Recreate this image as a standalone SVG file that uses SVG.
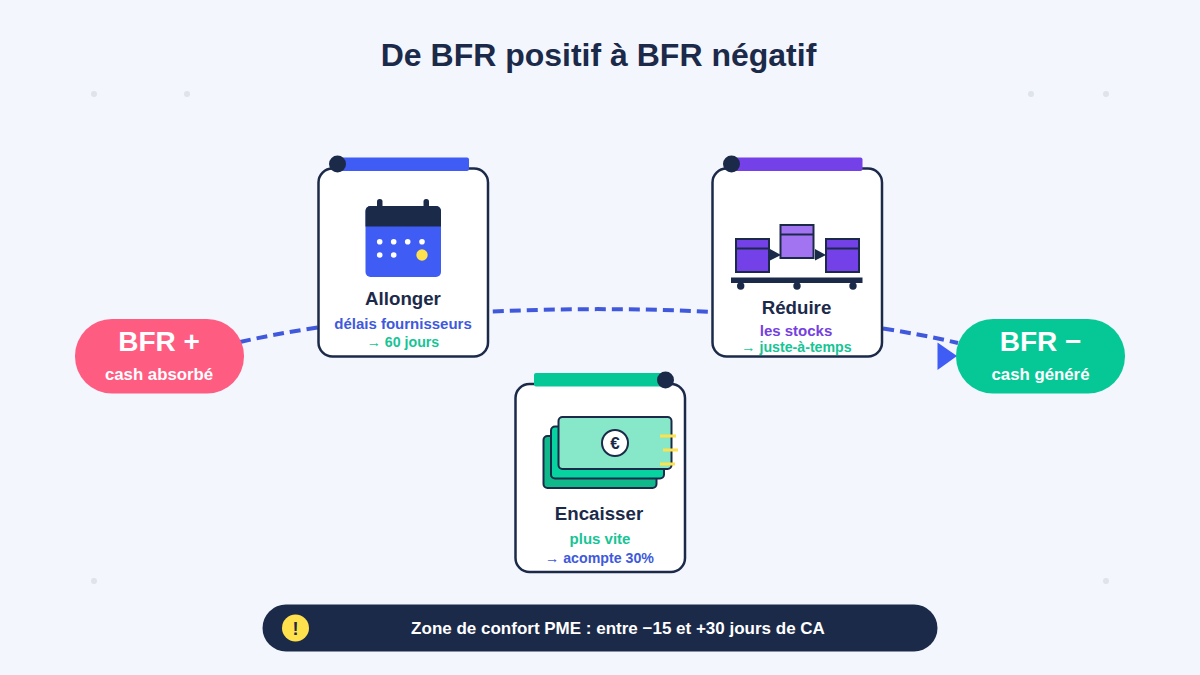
<svg xmlns="http://www.w3.org/2000/svg" width="1200" height="675" viewBox="0 0 1200 675">
<style>
text{font-family:"Liberation Sans",Arial,sans-serif;font-weight:700;text-anchor:middle}
.card{fill:#fff;stroke:#1c2a4a;stroke-width:2.5}
.ink{fill:#1c2a4a}
.name{font-size:18.700px;fill:#1c2a4a}
.sub{font-size:15px}
.arrow{font-size:14.200px}
.blue{fill:#4059dc}.green{fill:#17c495}.violet{fill:#7440e0}
.dot{fill:#dfe3ea}
.big{font-size:28px;fill:#fff}
.small{font-size:16.800px;fill:#fff}
.box{stroke:#1c2a4a;stroke-width:2}
.bill{stroke:#1c2a4a;stroke-width:2}
.y{stroke:#ffe14d;stroke-width:3}
.w{fill:#fff}
</style>
<rect width="1200" height="675" fill="#f3f6fd"/>
<g id="decor">
<circle class="dot" cx="94" cy="94" r="3"/><circle class="dot" cx="187" cy="94" r="3"/><circle class="dot" cx="1031" cy="94" r="3"/><circle class="dot" cx="1106" cy="94" r="3"/><circle class="dot" cx="94" cy="581" r="3"/><circle class="dot" cx="1106" cy="581" r="3"/>
</g>
<text id="title" x="598.500" y="66" font-size="32" class="ink">De BFR positif à BFR négatif</text>
<g id="connectors">
<path d="M240 342C430 298 770 298 958 343" fill="none" stroke="#4059dc" stroke-width="4" stroke-dasharray="11 6"/>
<polygon points="937.500,342.500 957,356 937.500,370" fill="#3f5cf5"/>
</g>
<g id="bfr-plus">
<rect x="75" y="319" width="169" height="74.500" rx="37" fill="#ff5c82"/>
<text class="big" x="159" y="351">BFR +</text>
<text class="small" x="159" y="380">cash absorbé</text>
</g>
<g id="bfr-minus">
<rect x="956" y="319" width="169" height="74.500" rx="37" fill="#06c896"/>
<text class="big" x="1040.500" y="351">BFR −</text>
<text class="small" x="1040.500" y="380">cash généré</text>
</g>
<g id="allonger">
<rect class="card" x="318.500" y="168.500" width="169.500" height="188" rx="14"/>
<rect x="337" y="157.500" width="132" height="13.500" rx="2" fill="#3f5cf5"/>
<circle class="ink" cx="337.500" cy="164" r="8.500"/>
<rect class="ink" x="377" y="199" width="5.500" height="12" rx="2.500"/><rect class="ink" x="423.500" y="199" width="5.500" height="12" rx="2.500"/>
<rect x="365.500" y="206" width="75.500" height="71" rx="5" fill="#3f5cf5"/>
<path class="ink" d="M365.500 226.500V211a5 5 0 0 1 5-5H436a5 5 0 0 1 5 5V226.500Z"/>
<g class="w"><circle cx="379.700" cy="241.700" r="2.800"/><circle cx="393.700" cy="241.700" r="2.800"/><circle cx="407.700" cy="241.700" r="2.800"/><circle cx="422" cy="241.700" r="2.800"/><circle cx="379.700" cy="255" r="2.800"/><circle cx="393.700" cy="255" r="2.800"/></g>
<circle cx="422" cy="255" r="5.700" fill="#ffe14d"/>
<text class="name" x="403" y="305">Allonger</text>
<text class="sub blue" x="403" y="329">délais fournisseurs</text>
<text class="arrow green" x="403" y="347">→ 60 jours</text>
</g>
<g id="reduire">
<rect class="card" x="712.500" y="168.500" width="169.500" height="188" rx="14"/>
<rect x="731" y="157.500" width="131.500" height="13.500" rx="2" fill="#7440e8"/>
<circle class="ink" cx="731.500" cy="164" r="8.500"/>
<rect class="box" x="736" y="239" width="33" height="33" fill="#7440e8"/><path class="box" d="M736 248.500H769"/>
<rect class="box" x="780.500" y="225" width="33" height="33" fill="#a274f2"/><path class="box" d="M780.500 234.500H813.500"/>
<rect class="box" x="826" y="239" width="33" height="33" fill="#7440e8"/><path class="box" d="M826 248.500H859"/>
<polygon class="ink" points="770,249 781,255 770,260.500"/><polygon class="ink" points="815,249 826,255 815,260.500"/>
<rect class="ink" x="731" y="277.500" width="131.500" height="5.500"/>
<circle class="ink" cx="740.700" cy="286" r="3.700"/><circle class="ink" cx="797" cy="286" r="3.700"/><circle class="ink" cx="853" cy="286" r="3.700"/>
<text class="name" x="796.500" y="314">Réduire</text>
<text class="sub violet" x="796" y="336">les stocks</text>
<text class="arrow green" x="796.500" y="352">→ juste-à-temps</text>
</g>
<g id="encaisser">
<rect class="card" x="515.500" y="384" width="169.500" height="188" rx="14"/>
<rect x="534" y="373" width="131.500" height="13.500" rx="2" fill="#06c896"/>
<circle class="ink" cx="665.500" cy="380" r="8.500"/>
<rect class="bill" x="543.500" y="436" width="113" height="52" rx="4" fill="#10b98a"/>
<rect class="bill" x="551" y="426.500" width="113" height="52" rx="4" fill="#06d3a0"/>
<rect class="bill" x="558.500" y="417" width="113" height="52" rx="4" fill="#86e8c8"/>
<circle cx="615" cy="443" r="13" fill="#fff" stroke="#1c2a4a" stroke-width="2"/>
<text x="615" y="449" font-size="17" class="ink">€</text>
<path class="y" d="M660 436H676M663 450H678M660 464H675"/>
<text class="name" x="599" y="520">Encaisser</text>
<text class="sub green" x="600" y="544">plus vite</text>
<text class="arrow blue" x="599.500" y="563">→ acompte 30%</text>
</g>
<g id="footer">
<rect x="262.500" y="604.500" width="675" height="47" rx="23.500" class="ink"/>
<circle cx="295.500" cy="628" r="13.500" fill="#ffe14d"/>
<text x="295.500" y="634.500" font-size="18" class="ink">!</text>
<text x="618" y="634" font-size="17" fill="#fff">Zone de confort PME : entre −15 et +30 jours de CA</text>
</g>
</svg>
